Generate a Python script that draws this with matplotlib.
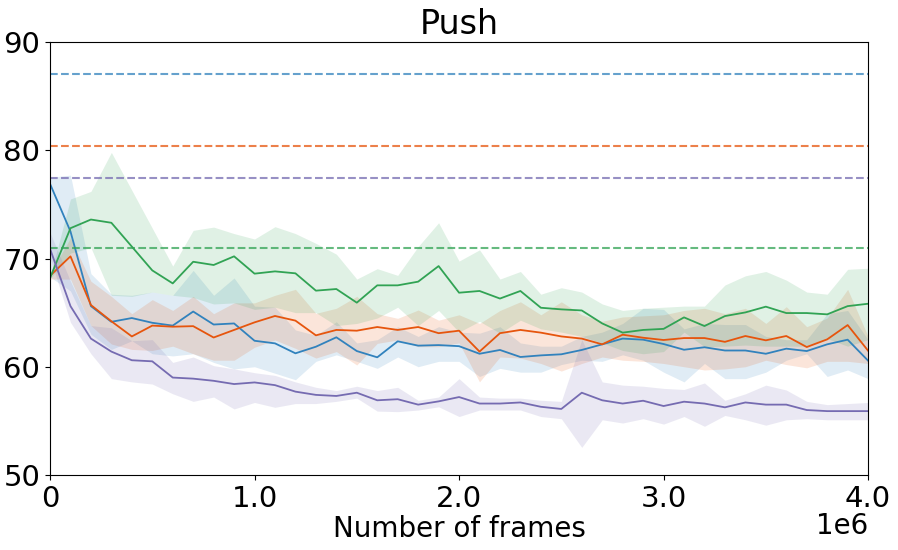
import numpy as np
import matplotlib
matplotlib.use('Agg')
import matplotlib.pyplot as plt

# frames: 0 .. 4e6 every 1e5
frames = np.arange(0, 4000001, 100000)

blue_mean = [76.9, 72.5, 65.6, 64.15, 64.5, 64.06, 63.8, 65.1, 63.9, 64.0,
             62.4, 62.16, 61.24, 61.85, 62.72, 61.45, 60.87, 62.35, 61.95, 62.0,
             61.9, 61.2, 61.55, 60.9, 61.05, 61.15, 61.55, 62.07, 62.6, 62.5,
             62.1, 61.57, 61.8, 61.5, 61.5, 61.2, 61.67, 61.45, 62.07, 62.5, 60.56]
blue_hi = [77.5, 77.7, 68.6, 66.7, 66.6, 66.9, 66.6, 68.9, 66.6, 68.2,
           65.6, 65.5, 63.4, 62.9, 64.16, 62.2, 62.5, 63.7, 62.8, 63.7,
           63.2, 63.1, 63.7, 62.2, 61.9, 61.9, 62.8, 63.2, 64.0, 65.4,
           65.3, 63.5, 64.0, 63.9, 63.9, 62.8, 62.5, 62.5, 64.9, 65.2, 62.5]
blue_lo = [68.3, 67.0, 63.0, 61.6, 62.4, 61.2, 61.0, 61.2, 60.4, 59.8,
           60.0, 59.4, 58.8, 60.5, 61.1, 60.5, 59.85, 60.9, 60.0, 60.5,
           60.5, 59.1, 59.85, 59.5, 59.5, 60.2, 60.6, 60.5, 61.1, 60.6,
           59.5, 58.6, 60.3, 58.9, 58.9, 59.5, 60.6, 61.2, 59.1, 59.7, 58.9]

orange_mean = [68.4, 70.2, 65.7, 64.2, 62.8, 63.8, 63.7, 63.75, 62.7, 63.4,
               64.1, 64.69, 64.26, 62.9, 63.4, 63.33, 63.67, 63.4, 63.67, 63.1,
               63.33, 61.4, 63.1, 63.4, 63.15, 62.8, 62.6, 62.07, 62.96, 62.68,
               62.47, 62.65, 62.65, 62.3, 62.84, 62.44, 62.84, 61.82, 62.53, 63.85, 61.48]
orange_hi = [68.6, 71.9, 67.9, 66.5, 64.9, 66.2, 65.2, 66.5, 64.9, 65.9,
             65.9, 66.6, 67.15, 64.93, 65.4, 66.5, 64.9, 64.47, 65.24, 64.3,
             64.8, 64.0, 65.2, 66.0, 64.8, 66.0, 64.8, 64.2, 64.6, 64.7,
             64.8, 65.2, 65.4, 64.9, 65.4, 64.0, 65.55, 63.7, 64.5, 67.15, 62.8]
orange_lo = [68.1, 68.1, 63.8, 62.1, 61.6, 61.5, 61.9, 61.2, 60.6, 60.6,
             61.8, 62.47, 61.7, 60.8, 61.4, 60.16, 62.16, 62.47, 61.85, 61.85,
             62.2, 58.6, 60.9, 60.8, 60.3, 59.6, 60.3, 60.9, 60.6, 60.5,
             60.3, 60.0, 59.7, 59.8, 60.0, 60.6, 60.2, 59.9, 60.5, 60.5, 60.3]

green_mean = [68.2, 72.8, 73.6, 73.3, 71.1, 68.9, 67.7, 69.7, 69.4, 70.2,
              68.6, 68.81, 68.63, 67.03, 67.18, 65.92, 67.52, 67.52, 67.86, 69.3,
              66.84, 67.0, 66.3, 67.0, 65.45, 65.3, 65.2, 64.0, 63.15, 63.4,
              63.5, 64.56, 63.76, 64.68, 65.02, 65.55, 64.96, 64.96, 64.84, 65.6, 65.82]
green_hi = [68.3, 75.5, 76.2, 79.8, 76.3, 72.8, 69.3, 72.6, 72.9, 72.3,
            71.8, 72.94, 72.3, 71.4, 70.4, 68.1, 69.06, 68.44, 71.1, 73.3,
            69.76, 70.8, 68.1, 68.8, 66.7, 67.3, 66.9, 65.8, 65.2, 65.4,
            65.5, 65.6, 65.6, 67.55, 68.4, 68.8, 68.0, 66.9, 66.7, 69.0, 69.1]
green_lo = [68.1, 70.5, 71.0, 66.6, 66.5, 66.9, 66.6, 66.4, 65.8, 65.9,
            65.3, 65.5, 65.0, 65.0, 63.8, 64.0, 64.5, 65.5, 63.8, 65.2,
            63.2, 64.2, 63.1, 64.3, 63.5, 63.2, 62.8, 62.2, 61.5, 61.2,
            61.4, 63.2, 61.85, 61.9, 62.0, 61.9, 61.9, 61.9, 62.6, 61.9, 62.5]

purple_mean = [70.9, 65.6, 62.6, 61.4, 60.6, 60.5, 59.0, 58.9, 58.7, 58.4,
               58.55, 58.3, 57.7, 57.4, 57.3, 57.6, 56.9, 57.0, 56.5, 56.8,
               57.2, 56.6, 56.6, 56.7, 56.3, 56.1, 57.6, 56.9, 56.6, 56.86,
               56.37, 56.77, 56.6, 56.25, 56.7, 56.5, 56.5, 56.0, 55.9, 55.9, 55.9]
purple_hi = [72.4, 67.9, 63.8, 63.6, 62.4, 62.5, 60.4, 60.9, 60.1, 59.8,
             59.45, 59.2, 58.6, 58.1, 57.8, 58.2, 57.8, 58.1, 56.9, 57.2,
             58.9, 57.2, 57.1, 57.1, 56.9, 56.8, 62.5, 58.6, 58.3, 58.2,
             58.0, 57.9, 58.5, 56.9, 57.5, 58.3, 57.85, 56.8, 56.5, 56.6, 56.7]
purple_lo = [70.1, 64.1, 61.2, 58.9, 58.6, 58.4, 57.5, 56.8, 57.2, 56.1,
             56.7, 56.25, 56.6, 56.6, 56.8, 57.1, 55.9, 55.85, 56.0, 56.3,
             55.4, 56.0, 56.0, 56.0, 55.4, 55.2, 52.55, 55.1, 54.8, 55.2,
             54.7, 55.4, 54.5, 55.5, 55.1, 54.6, 55.1, 55.2, 55.1, 55.1, 55.1]

# dashed reference levels (blue, orange, green, purple)
ref_levels = [87.0, 80.4, 71.0, 77.4]

colors = ['#3182bd', '#e6550d', '#31a354', '#756bb1']
means = [blue_mean, orange_mean, green_mean, purple_mean]
his = [blue_hi, orange_hi, green_hi, purple_hi]
los = [blue_lo, orange_lo, green_lo, purple_lo]

fig = plt.figure(figsize=(8.98, 5.5), dpi=100)
ax = fig.add_axes([0.0557, 0.1364, 0.911, 0.7872])

for c, m, hi, lo in zip(colors, means, his, los):
    ax.fill_between(frames, lo, hi, color=c, alpha=0.15, linewidth=0)
    ax.plot(frames, m, color=c, linewidth=1.3)

for c, r in zip(colors, ref_levels):
    ax.axhline(r, color=c, linestyle='--', linewidth=1.5, alpha=0.75)

ax.set_xlim(0, 4000000)
ax.set_ylim(50, 90)
ax.set_yticks([50, 60, 70, 80, 90])
ax.set_xticks([0, 1000000, 2000000, 3000000, 4000000])
ax.set_xticklabels(['0', '1.0', '2.0', '3.0', '4.0'])
ax.tick_params(labelsize=21)
ax.set_xlabel('Number of frames', fontsize=20, labelpad=2)
ax.set_title('Push', fontsize=24)
ax.text(1.0, -0.118, '1e6', transform=ax.transAxes, ha='right', va='center', fontsize=20)

plt.savefig('out.png', dpi=100)
